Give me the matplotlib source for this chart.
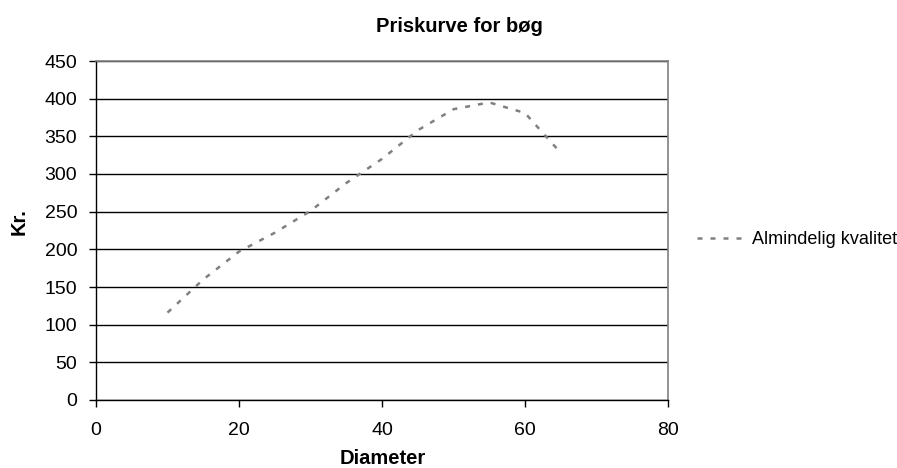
import matplotlib
matplotlib.use('Agg')
import matplotlib.pyplot as plt

# Data
diameter = [10, 15, 20, 25, 30, 35, 40, 45, 50, 55, 60, 65]
price = [116, 160, 197, 222, 251, 288, 320, 358, 386, 395, 381, 328]
series_name = 'Almindelig kvalitet'

plt.rcParams['font.family'] = ['Liberation Sans', 'DejaVu Sans']

fig = plt.figure(figsize=(8.97, 4.68), dpi=100)
ax = fig.add_axes([96 / 897, 1 - 400 / 468, (668 - 96) / 897, (400 - 61) / 468])

line, = ax.plot(diameter, price, color='#808080', linewidth=1.8,
                label=series_name)
line.set_dashes([2.0, 3.2])

ax.set_xlim(0, 80)
ax.set_ylim(0, 450)
ax.set_xticks(range(0, 81, 20))
ax.set_yticks(range(0, 451, 50))

# horizontal gridlines
ax.yaxis.grid(True, color='black', linewidth=1)
ax.set_axisbelow(True)

for side in ['top', 'right']:
    ax.spines[side].set_color('#808080')
    ax.spines[side].set_linewidth(1.2)
for side in ['left', 'bottom']:
    ax.spines[side].set_color('black')
    ax.spines[side].set_linewidth(1)

ax.tick_params(axis='both', direction='out', length=5, width=1,
               labelsize=14, colors='black')
ax.tick_params(axis='x', pad=11)
ax.tick_params(axis='y', pad=8.5)

ax.set_xlabel('Diameter', fontsize=14.5, fontweight='bold')
ax.xaxis.set_label_coords(0.501, -0.146)
ax.set_ylabel('Kr.', fontsize=14.5, fontweight='bold')
ax.yaxis.set_label_coords(-0.117, 0.525)
fig.suptitle('Priskurve for bøg', fontsize=14.5, fontweight='bold', x=459 / 897, y=1 - 27 / 468,
             va='center')

fig.legend(handles=[line], loc='center left', bbox_to_anchor=(690 / 897, 1 - 240 / 468),
           frameon=False, fontsize=13, handlelength=2.65, handletextpad=0.39,
           borderaxespad=0)

fig.savefig('out.png', dpi=100)
